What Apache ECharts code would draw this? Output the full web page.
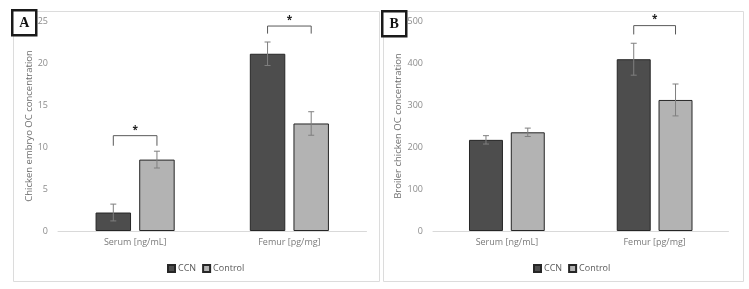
<!DOCTYPE html>
<html>
<head>
<meta charset="utf-8">
<script src="https://cdn.jsdelivr.net/npm/echarts@6/dist/echarts.min.js"></script>
<style>html,body{margin:0;padding:0;background:#fff}#c{width:749px;height:289px}</style>
</head>
<body>
<div id="c"></div>
<script>
// ---- data ----
var categories = ['Serum [ng/mL]', 'Femur [pg/mg]'];
var seriesNames = ['CCN', 'Control'];
// Panel A: chicken embryo
var ccnA = [2.2, 21.1];
var ccnAErr = [1.0, 1.4];
var controlA = [8.5, 12.8];
var controlAErr = [1.0, 1.4];
var yTicksA = [0, 5, 10, 15, 20, 25];
var sigA = [[0, 11.35, 10.15], [1, 24.4, 23.5]]; // [category, bracket top, tick bottom]
// Panel B: broiler chicken
var ccnB = [217, 409];
var ccnBErr = [10, 38];
var controlB = [235, 312];
var controlBErr = [10, 38];
var yTicksB = [0, 100, 200, 300, 400, 500];
var sigB = [[1, 489, 468]];

var FONT = 'Open Sans';
var BARW = 0.23, GAP = 0.23;
var barColors = ['#4d4d4d', '#b3b3b3'];

function offsets(band) {
  var bw = band * BARW;
  var off = (bw + bw * GAP) / 2;
  return [-off, off];
}

function errSeries(vals, errs, idx, gi) {
  return {
    type: 'custom', xAxisIndex: gi, yAxisIndex: gi, z: 5, silent: true,
    data: vals.map(function (v, i) { return [i, v, errs[i]]; }),
    renderItem: function (params, api) {
      var c = api.value(0), v = api.value(1), e = api.value(2);
      var band = api.size([1, 0])[0];
      var dx = offsets(band)[idx];
      var top = api.coord([c, v + e]);
      var bot = api.coord([c, v - e]);
      var x = top[0] + dx;
      var cap = 3;
      var st = { stroke: '#7f7f7f', lineWidth: 1, fill: null };
      return {
        type: 'group', children: [
          { type: 'line', shape: { x1: x, y1: top[1], x2: x, y2: bot[1] }, style: st },
          { type: 'line', shape: { x1: x - cap, y1: top[1], x2: x + cap, y2: top[1] }, style: st },
          { type: 'line', shape: { x1: x - cap, y1: bot[1], x2: x + cap, y2: bot[1] }, style: st }
        ]
      };
    }
  };
}

function sigSeries(data, gi) {
  return {
    type: 'custom', xAxisIndex: gi, yAxisIndex: gi, z: 6, silent: true,
    data: data,
    renderItem: function (params, api) {
      var c = api.value(0), t = api.value(1), b = api.value(2);
      var band = api.size([1, 0])[0];
      var o = offsets(band);
      var pT = api.coord([c, t]);
      var pB = api.coord([c, b]);
      var x1 = pT[0] + o[0], x2 = pT[0] + o[1];
      var st = { stroke: '#595959', lineWidth: 1, fill: null };
      return {
        type: 'group', children: [
          { type: 'polyline', shape: { points: [[x1, pB[1]], [x1, pT[1]], [x2, pT[1]], [x2, pB[1]]] }, style: st },
          { type: 'text', style: { text: '*', x: (x1 + x2) / 2, y: pT[1] - 1, align: 'center', verticalAlign: 'bottom', fill: '#222', font: 'bold 10px ' + FONT } }
        ]
      };
    }
  };
}

function barSeries(name, vals, gi, ci) {
  return {
    name: name, type: 'bar', xAxisIndex: gi, yAxisIndex: gi,
    data: vals, barWidth: (BARW * 100) + '%', barGap: (GAP * 100) + '%',
    itemStyle: { color: barColors[ci], borderColor: '#262626', borderWidth: 1 },
    emphasis: { disabled: true }
  };
}

function xAxis(gi) {
  return {
    type: 'category', gridIndex: gi, data: categories,
    axisLine: { lineStyle: { color: '#d9d9d9', width: 1 } },
    axisTick: { show: false },
    axisLabel: { color: '#7a7a7a', fontSize: 9, fontFamily: FONT, margin: 7 }
  };
}
function yAxis(gi, ticks, name, gap) {
  return {
    type: 'value', gridIndex: gi, min: ticks[0], max: ticks[ticks.length - 1],
    interval: ticks[1] - ticks[0],
    name: name, nameLocation: 'middle', nameGap: gap,
    nameTextStyle: { color: '#6e6e6e', fontSize: 9.5, fontFamily: FONT },
    axisLine: { show: false }, axisTick: { show: false },
    splitLine: { show: false },
    axisLabel: { color: '#8c8c8c', fontSize: 9, fontFamily: FONT, margin: 10 }
  };
}

function labelBox(x, y, letter) {
  return {
    type: 'group', left: x, top: y, z: 100,
    children: [
      { type: 'rect', shape: { x: 0, y: 0, width: 24, height: 25 }, style: { fill: '#fff', stroke: '#1a1a1a', lineWidth: 2.5 } },
      { type: 'text', x: 12, y: 13, style: { text: letter, align: 'center', verticalAlign: 'middle', fill: '#111', font: 'bold 14px "Liberation Serif"' } }
    ]
  };
}

function legend(left) {
  return {
    left: left, top: 259, itemWidth: 7, itemHeight: 7, itemGap: 6, icon: 'rect', data: seriesNames,
    textStyle: { color: '#595959', fontSize: 9, fontFamily: FONT, padding: [0, 0, 0, -2] }
  };
}

var chart = echarts.init(document.getElementById('c'), null, { renderer: 'canvas' });
chart.setOption({
  animation: false,
  backgroundColor: '#fff',
  textStyle: { fontFamily: FONT },
  grid: [
    { left: 58, right: 382.5, top: 21, bottom: 58 },
    { left: 433, right: 20.5, top: 21, bottom: 58 }
  ],
  xAxis: [xAxis(0), xAxis(1)],
  yAxis: [
    yAxis(0, yTicksA, 'Chicken embryo OC concentration', 21),
    yAxis(1, yTicksB, 'Broiler chicken OC concentration', 28)
  ],
  legend: [legend(162), legend(528)],
  graphic: [
    { type: 'rect', left: 11, top: 9, z: -1, shape: { width: 366, height: 270 }, style: { fill: 'none', stroke: '#dcdcdc', lineWidth: 1 } },
    { type: 'rect', left: 381, top: 9, z: -1, shape: { width: 360, height: 270 }, style: { fill: 'none', stroke: '#dcdcdc', lineWidth: 1 } },
    labelBox(11, 9, 'A'),
    labelBox(381, 10, 'B')
  ],
  series: [
    barSeries('CCN', ccnA, 0, 0),
    barSeries('Control', controlA, 0, 1),
    errSeries(ccnA, ccnAErr, 0, 0),
    errSeries(controlA, controlAErr, 1, 0),
    sigSeries(sigA, 0),
    barSeries('CCN', ccnB, 1, 0),
    barSeries('Control', controlB, 1, 1),
    errSeries(ccnB, ccnBErr, 0, 1),
    errSeries(controlB, controlBErr, 1, 1),
    sigSeries(sigB, 1)
  ]
});
</script>
</body>
</html>
